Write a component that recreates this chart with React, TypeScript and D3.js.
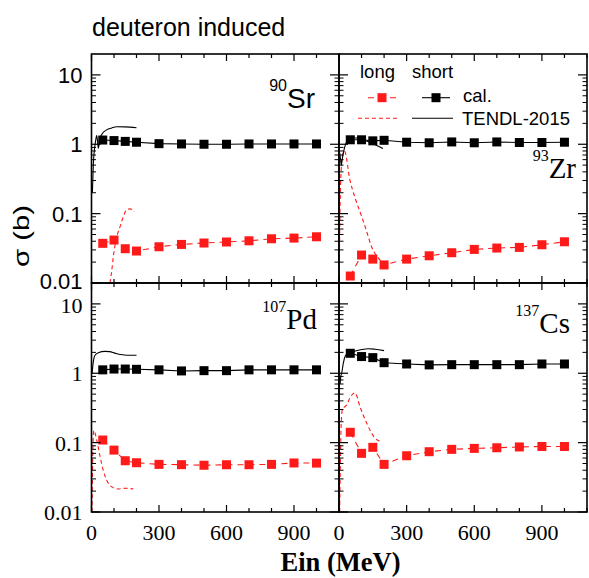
import React from "react";
import * as d3 from "d3";

// Incident energies of the calculated points (MeV)
const energies = [50, 100, 150, 200, 300, 400, 500, 600, 700, 800, 900, 1000];

// Calculated cross sections (b): short-lived and long-lived products
const srShort = [1.15, 1.13, 1.1, 1.07, 1.02, 1.01, 1.0, 1.0, 1.01, 1.01, 1.01, 1.01];
const srLong = [0.0373, 0.0416, 0.0312, 0.0289, 0.0333, 0.036, 0.0377, 0.039, 0.0406, 0.0434, 0.0444, 0.0464];
const zrShort = [1.16, 1.16, 1.12, 1.14, 1.07, 1.05, 1.08, 1.05, 1.08, 1.06, 1.06, 1.07];
const zrLong = [0.0126, 0.0253, 0.0221, 0.0182, 0.0221, 0.0247, 0.0273, 0.0305, 0.0319, 0.0326, 0.0356, 0.0393];
const pdShort = [1.12, 1.15, 1.15, 1.14, 1.12, 1.08, 1.09, 1.09, 1.12, 1.12, 1.12, 1.12];
const pdLong = [0.109, 0.078, 0.0548, 0.0513, 0.0486, 0.0481, 0.0472, 0.048, 0.048, 0.0486, 0.0509, 0.0507];
const csShort = [1.94, 1.74, 1.68, 1.42, 1.36, 1.32, 1.33, 1.33, 1.33, 1.33, 1.36, 1.36];
const csLong = [0.141, 0.0701, 0.0855, 0.0486, 0.0647, 0.074, 0.08, 0.0826, 0.0843, 0.0866, 0.088, 0.088];

// TENDL-2015 evaluations, [E (MeV), sigma (b)]
const tendlSrShort: [number, number][] = [[4, 0.2], [8, 0.5], [12, 0.78], [18, 1.1], [23, 1.33], [27, 1.1], [30, 0.88], [34, 1.0], [38, 1.22], [50, 1.45], [67, 1.61], [90, 1.72], [112, 1.79], [150, 1.78], [200, 1.73]];
const tendlSrLong: [number, number][] = [[82, 0.01], [90, 0.015], [97, 0.024], [110, 0.043], [127, 0.065], [141, 0.09], [156, 0.113], [170, 0.117], [180, 0.115], [190, 0.107]];
const tendlZrShort: [number, number][] = [[3, 0.75], [7, 0.6], [10, 0.5], [14, 0.6], [25, 0.9], [38, 1.15], [50, 1.25], [195, 0.87]];
const tendlZrLong: [number, number][] = [[1, 0.01], [3, 0.05], [6, 0.2], [10, 0.45], [16, 0.7], [24, 0.8], [49, 0.3], [71, 0.17], [101, 0.09], [123, 0.055], [145, 0.033], [174, 0.023], [200, 0.019]];
const tendlPdShort: [number, number][] = [[3, 1.0], [6, 1.3], [10, 1.6], [15, 1.8], [30, 1.98], [60, 2.07], [80, 2.05], [104, 1.95], [130, 1.86], [160, 1.82], [200, 1.82]];
const tendlPdLong: [number, number][] = [[2, 0.01], [4, 0.03], [6, 0.08], [10, 0.15], [15, 0.14], [23, 0.11], [38, 0.063], [52, 0.04], [67, 0.029], [90, 0.023], [119, 0.0215], [150, 0.022], [185, 0.0215]];
const tendlCsShort: [number, number][] = [[5, 0.7], [8, 0.9], [12, 1.0], [19, 1.39], [27, 1.74], [41, 1.96], [70, 2.08], [101, 2.2], [130, 2.26], [160, 2.22], [200, 2.12]];
const tendlCsLong: [number, number][] = [[3, 0.01], [6, 0.05], [10, 0.2], [15, 0.3], [34, 0.35], [50, 0.45], [71, 0.52], [93, 0.33], [123, 0.19], [160, 0.116], [190, 0.103]];

const xTickValues = [0, 300, 600, 900];
const yTickLabels = ["0.01", "0.1", "1", "10"];

const SANS = "'Liberation Sans', Arial, sans-serif";
const SERIF = "'Liberation Serif', 'Times New Roman', serif";
const RED = "#ff1a1a";

const W = 589;
const H = 578;
const colX = [91.5, 339, 587];
const rowY = [54, 283, 512];

type Panel = {
  key: string;
  col: number;
  row: number;
  mass: string;
  elem: string;
  serif: boolean;
  short: number[];
  long: number[];
  tShort: [number, number][];
  tLong: [number, number][];
  labelX: number;
  labelY: number;
};

const panels: Panel[] = [
  { key: "sr", col: 0, row: 0, mass: "90", elem: "Sr", serif: false, short: srShort, long: srLong, tShort: tendlSrShort, tLong: tendlSrLong, labelX: 315, labelY: 108 },
  { key: "zr", col: 1, row: 0, mass: "93", elem: "Zr", serif: true, short: zrShort, long: zrLong, tShort: tendlZrShort, tLong: tendlZrLong, labelX: 576, labelY: 178 },
  { key: "pd", col: 0, row: 1, mass: "107", elem: "Pd", serif: true, short: pdShort, long: pdLong, tShort: tendlPdShort, tLong: tendlPdLong, labelX: 317, labelY: 329 },
  { key: "cs", col: 1, row: 1, mass: "137", elem: "Cs", serif: true, short: csShort, long: csLong, tShort: tendlCsShort, tLong: tendlCsLong, labelX: 570, labelY: 333 },
];

function minorYTicks(): number[] {
  const out: number[] = [];
  for (let p = -2; p <= 1; p++) {
    for (let k = 2; k <= 9; k++) {
      const v = k * Math.pow(10, p);
      if (v < 20) out.push(v);
    }
  }
  return out;
}

function PanelView({ p }: { p: Panel }) {
  const x0 = colX[p.col];
  const x1 = colX[p.col + 1];
  const y0 = rowY[p.row];
  const y1 = rowY[p.row + 1];
  const x = d3.scaleLinear().domain([0, 1100]).range([x0, x1]);
  const y = d3.scaleLog().domain([0.01, 20]).range([y1, y0]);
  const clipId = `clip-${p.key}`;

  const calcLine = d3
    .line<number>()
    .x((_, i) => x(energies[i]))
    .y((d) => y(d));
  const tendlLine = d3
    .line<[number, number]>()
    .x((d) => x(d[0]))
    .y((d) => y(d[1]))
    .curve(d3.curveMonotoneX);

  const majors = [0.01, 0.1, 1, 10];
  const minors = minorYTicks();
  const xTicks = d3.range(0, 1101, 100);
  const ms = 9;

  // keep the edge labels of stacked panels from colliding
  const labelShift = (v: number) => {
    if (p.row === 0 && v === 0.01) return -1.5;
    if (p.row === 1 && v === 10) return 1;
    return 0;
  };

  return (
    <g>
      <defs>
        <clipPath id={clipId}>
          <rect x={x0} y={y0} width={x1 - x0} height={y1 - y0} />
        </clipPath>
      </defs>
      <g clipPath={`url(#${clipId})`}>
        <path d={tendlLine(p.tLong) || ""} fill="none" stroke={RED} strokeWidth={1.1} strokeDasharray="4,3" />
        <path d={tendlLine(p.tShort) || ""} fill="none" stroke="#000" strokeWidth={1.1} />
        <path d={calcLine(p.long) || ""} fill="none" stroke={RED} strokeWidth={1.1} strokeDasharray="6,5" />
        <path d={calcLine(p.short) || ""} fill="none" stroke="#000" strokeWidth={1.1} />
        {p.long.map((v, i) => (
          <rect key={`l${i}`} x={x(energies[i]) - ms / 2} y={y(v) - ms / 2} width={ms} height={ms} fill={RED} />
        ))}
        {p.short.map((v, i) => (
          <rect key={`s${i}`} x={x(energies[i]) - ms / 2} y={y(v) - ms / 2} width={ms} height={ms} fill="#000" />
        ))}
      </g>
      {/* y ticks, left and right sides, pointing inward */}
      {majors.map((v) => (
        <g key={`ym${v}`}>
          <line x1={x0} x2={x0 + 9} y1={y(v)} y2={y(v)} stroke="#000" strokeWidth={1.2} />
          <line x1={x1} x2={x1 - 9} y1={y(v)} y2={y(v)} stroke="#000" strokeWidth={1.2} />
        </g>
      ))}
      {minors.map((v) => (
        <g key={`yn${v}`}>
          <line x1={x0} x2={x0 + 4.5} y1={y(v)} y2={y(v)} stroke="#000" strokeWidth={1} />
          <line x1={x1} x2={x1 - 4.5} y1={y(v)} y2={y(v)} stroke="#000" strokeWidth={1} />
        </g>
      ))}
      {/* x ticks, top and bottom, pointing inward */}
      {xTicks.map((t) => {
        const len = t % 300 === 0 ? 7 : 4;
        return (
          <g key={`xt${t}`}>
            <line x1={x(t)} x2={x(t)} y1={y0} y2={y0 + len} stroke="#000" strokeWidth={1.2} />
            <line x1={x(t)} x2={x(t)} y1={y1} y2={y1 - len} stroke="#000" strokeWidth={1.2} />
          </g>
        );
      })}
      <rect x={x0} y={y0} width={x1 - x0} height={y1 - y0} fill="none" stroke="#000" strokeWidth={1.6} />
      {/* y tick labels on the left column */}
      {p.col === 0 &&
        majors.map((v, i) => (
          <text
            key={`yl${v}`}
            x={x0 - 9}
            y={y(v) + labelShift(v)}
            dy="0.36em"
            textAnchor="end"
            fontFamily={p.row === 0 ? SANS : SERIF}
            fontSize={22}
          >
            {yTickLabels[i]}
          </text>
        ))}
      {/* x tick labels on the bottom row */}
      {p.row === 1 &&
        xTickValues.map((t) => (
          <text key={`xl${t}`} x={x(t)} y={y1 + 28} textAnchor="middle" fontFamily={SERIF} fontSize={22}>
            {t}
          </text>
        ))}
      {/* nuclide label */}
      <text x={p.labelX} y={p.labelY} textAnchor="end" fontFamily={p.serif ? SERIF : SANS} fontSize={p.serif ? 29 : 28}>
        <tspan fontSize={16} dy={-17}>
          {p.mass}
        </tspan>
        <tspan dy={17}>{p.elem}</tspan>
      </text>
    </g>
  );
}

function Legend() {
  const ms = 9;
  const rowA = 97.7;
  const rowB = 118.3;
  return (
    <g fontFamily={SANS} fontSize={18.5}>
      <text x={360} y={78}>long</text>
      <text x={412} y={78}>short</text>
      <line x1={368} x2={396} y1={rowA} y2={rowA} stroke={RED} strokeWidth={1.1} strokeDasharray="6,5" />
      <rect x={382 - ms / 2} y={rowA - ms / 2} width={ms} height={ms} fill={RED} />
      <line x1={422} x2={450} y1={rowA} y2={rowA} stroke="#000" strokeWidth={1.1} />
      <rect x={436 - ms / 2} y={rowA - ms / 2} width={ms} height={ms} fill="#000" />
      <text x={463} y={102}>cal.</text>
      <line x1={358} x2={398} y1={rowB} y2={rowB} stroke={RED} strokeWidth={1.1} strokeDasharray="4,3" />
      <line x1={412} x2={453} y1={rowB} y2={rowB} stroke="#000" strokeWidth={1.1} />
      <text x={462} y={124.5}>TENDL-2015</text>
    </g>
  );
}

export default function App() {
  return (
    <svg
      width={W}
      height={H}
      viewBox={`0 0 ${W} ${H}`}
      style={{ position: "absolute", left: 0, top: 0, background: "#fff" }}
    >
      <rect x={0} y={0} width={W} height={H} fill="#fff" />
      <text x={92} y={36} fontFamily={SANS} fontSize={25}>
        deuteron induced
      </text>
      {panels.map((p) => (
        <PanelView key={p.key} p={p} />
      ))}
      <Legend />
      <text
        transform="translate(29,236) rotate(-90)"
        textAnchor="middle"
        fontFamily={SANS}
        fontSize={22}
        textLength={62}
        lengthAdjust="spacingAndGlyphs"
      >
        σ (b)
      </text>
      <text x={340.5} y={571} textAnchor="middle" fontFamily={SERIF} fontWeight="bold" fontSize={26.5}>
        Ein (MeV)
      </text>
    </svg>
  );
}
